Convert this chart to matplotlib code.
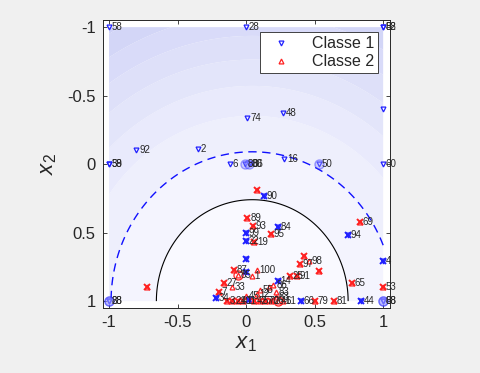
import numpy as np
import matplotlib
matplotlib.use('Agg')
import matplotlib.pyplot as plt
from matplotlib.colors import LinearSegmentedColormap

plt.rcParams['font.family'] = ['Liberation Sans', 'DejaVu Sans']
plt.rcParams['mathtext.fontset'] = 'custom'
plt.rcParams['mathtext.it'] = 'Liberation Sans:italic'
plt.rcParams['mathtext.rm'] = 'Liberation Sans'

# ---------------- data ----------------
# Classe 1 (blue)
c1_x = [-1, 0, 1, 1, 0.01, 0.27, 1, -0.8, -0.35, -1, -1, -0.12, -0.01, 0.02, 0.03,
        0.28, 0.53, 1, 0.13, 0.23, 0.74, 0.0, 0.0, 0.0, 1, 0.0, 0.23, -0.22, 0.4,
        0.84, 1, 1, -1, -1, 0.02]
c1_y = [-1, -1, -1, -1, -0.34, -0.37, -0.4, -0.1, -0.11, 0, 0, 0, 0, 0, 0,
        -0.04, 0, 0, 0.23, 0.46, 0.52, 0.5, 0.56, 0.69, 0.71, 0.79, 0.85, 0.98, 1,
        1, 1, 1, 1, 1, 0.99]
c1_lab = ['58', '28', '52', '88', '74', '48', '', '92', '2', '38', '59', '6', '80', '30', '86',
          '16', '50', '60', '90', '84', '94', '99', '22', '', '4', '', '14', '34', '66',
          '44', '68', '88', '28', '88', '']
c1_cross = [0, 0, 0, 0, 0, 0, 0, 0, 0, 0, 0, 0, 0, 0, 0,
            0, 0, 0, 1, 1, 1, 1, 1, 1, 1, 1, 1, 1, 1,
            1, 0, 0, 0, 0, 1]
c1_sv = [0, 0, 0, 0, 0, 0, 0, 0, 0, 0, 0, 0, 1, 1, 0,
         0, 1, 0, 0, 0, 0, 0, 0, 0, 0, 0, 0, 0, 0,
         0, 1, 1, 1, 1, 0]

# Classe 2 (red)
c2_x = [0.08, 0.01, 0.05, 0.18, 0.83, 0.06, 0.39, 0.42, 0.46, 0.53, -0.09, 0.08, -0.06,
        0.04, 0.32, 0.37, -0.16, 0.77, 1, -0.72, -0.2, -0.1, 0.1, 0.17, 0.2, 0.22, 0.22,
        0.5, 0.64, -0.14, -0.1, -0.06, -0.02, 0.06, 0.1, 0.14, 0.18, 0.23, 0.27, 0.0, 0.08]
c2_y = [0.19, 0.39, 0.45, 0.51, 0.42, 0.57, 0.73, 0.67, 0.71, 0.78, 0.77, 0.77, 0.81,
        0.82, 0.82, 0.82, 0.87, 0.87, 0.9, 0.9, 0.93, 0.9, 0.92, 0.9, 0.88, 0.93, 0.97,
        1, 1, 1, 1, 1, 1, 1, 1, 1, 1, 1, 1, 0.96, 0.95]
c2_lab = ['', '89', '93', '95', '69', '19', '97', '', '98', '', '87', '100', '85',
          '1', '25', '91', '27', '65', '53', '', '7', '33', '55', '', '86', '83', '63',
          '79', '81', '3', '21', '40', '11', '42', '57', '70', '26', '41', '61', '45', '12']
c2_cross = [1, 1, 1, 1, 1, 1, 1, 1, 0, 1, 1, 0, 0,
            0, 1, 1, 1, 1, 1, 1, 1, 0, 0, 0, 0, 0, 0,
            1, 1, 1, 1, 1, 1, 1, 1, 1, 1, 0, 0, 0, 0]
c2_sv = [0, 0, 0, 0, 0, 0, 0, 0, 0, 0, 0, 0, 1,
         0, 0, 0, 0, 0, 0, 0, 0, 0, 0, 0, 0, 0, 0,
         0, 0, 0, 0, 0, 0, 0, 0, 0, 0, 1, 0, 0, 0]

# decision surface parameters (quadratic kernel shape)
center = (0.045, 1.0)
x_scale = 1.12
r0_sq = 0.548
r1_sq = 1.188

# ---------------- figure ----------------
fig = plt.figure(figsize=(4.8, 3.73), dpi=100, facecolor='#f0f0f0')
ax = fig.add_axes([0.214, 0.174, 0.5985, 0.772])
ax.set_facecolor('white')

gx = np.linspace(-1, 1, 300)
gy = np.linspace(-1, 1, 300)
GX, GY = np.meshgrid(gx, gy)
D2 = x_scale * (GX - center[0]) ** 2 + (GY - center[1]) ** 2
F = (D2 - r0_sq) / (r1_sq - r0_sq)

cmap = LinearSegmentedColormap.from_list('bg', ['#fcfcff', '#cbcef6'])
levels = np.arange(-1, 9, 1)
ax.contourf(GX, GY, F, levels=levels, cmap=cmap, zorder=0, antialiased=True)
ax.contour(GX, GY, F, levels=[0], colors='k', linewidths=0.8, zorder=1)
ax.contour(GX, GY, F, levels=[1], colors='#1010ff', linewidths=1.0,
           linestyles=[(0, (6, 4))], zorder=1)

c1_x = np.array(c1_x); c1_y = np.array(c1_y)
c2_x = np.array(c2_x); c2_y = np.array(c2_y)
m1 = np.array(c1_cross, bool); s1 = np.array(c1_sv, bool)
m2 = np.array(c2_cross, bool); s2 = np.array(c2_sv, bool)

blue = '#2020ff'
red = '#ff2020'
h1, = ax.plot(c1_x, c1_y, 'v', color=blue, ms=3.5, mfc='none', mew=0.9, zorder=3,
              label='Classe 1', clip_on=False)
h2, = ax.plot(c2_x, c2_y, '^', color=red, ms=3.5, mfc='none', mew=0.9, zorder=3,
              label='Classe 2', clip_on=False)
ax.plot(c1_x[m1], c1_y[m1], 'x', color=blue, ms=5, mew=1.4, zorder=3, clip_on=False)
ax.plot(c2_x[m2], c2_y[m2], 'x', color=red, ms=5, mew=1.4, zorder=3, clip_on=False)
ax.plot(c1_x[s1], c1_y[s1], 'o', color=blue, ms=6.5, mfc=(0.6, 0.6, 1, 0.4), mew=1.0,
        zorder=3, clip_on=False)
ax.plot(c2_x[s2], c2_y[s2], 'o', color=red, ms=6.5, mfc='none', mew=0.9, zorder=3,
        clip_on=False)

for xs, ys, labs in ((c1_x, c1_y, c1_lab), (c2_x, c2_y, c2_lab)):
    for x, y, t in zip(xs, ys, labs):
        if t:
            ax.text(x + 0.02, y, t, fontsize=7, color='#262626', va='center',
                    ha='left', zorder=4)

ax.set_xlim(-1.046, 1.05)
ax.set_ylim(1.051, -1.051)
ticks = [-1, -0.5, 0, 0.5, 1]
ax.set_xticks(ticks)
ax.set_yticks(ticks)
ax.set_xticklabels(['-1', '-0.5', '0', '0.5', '1'])
ax.set_yticklabels(['-1', '-0.5', '0', '0.5', '1'])
ax.tick_params(direction='in', length=3, width=0.6, colors='#262626', labelsize=12,
               top=True, right=True, pad=5)
for sp in ax.spines.values():
    sp.set_color('#262626')
    sp.set_linewidth(0.7)

ax.set_xlabel(r'$x_1$', fontsize=16, color='#262626', labelpad=2)
ax.set_ylabel(r'$x_2$', fontsize=16, color='#262626', labelpad=6)

leg = ax.legend(handles=[h1, h2], loc='upper right', bbox_to_anchor=(0.958, 0.958),
                borderaxespad=0, fontsize=11.5, frameon=True, fancybox=False,
                edgecolor='#262626', framealpha=1, handlelength=2.2, handletextpad=0.8,
                borderpad=0.25, labelspacing=0.2, markerscale=1.0)
leg.get_frame().set_linewidth(0.6)
for t in leg.get_texts():
    t.set_color('#262626')

fig.savefig('out.png', dpi=100, facecolor=fig.get_facecolor())
